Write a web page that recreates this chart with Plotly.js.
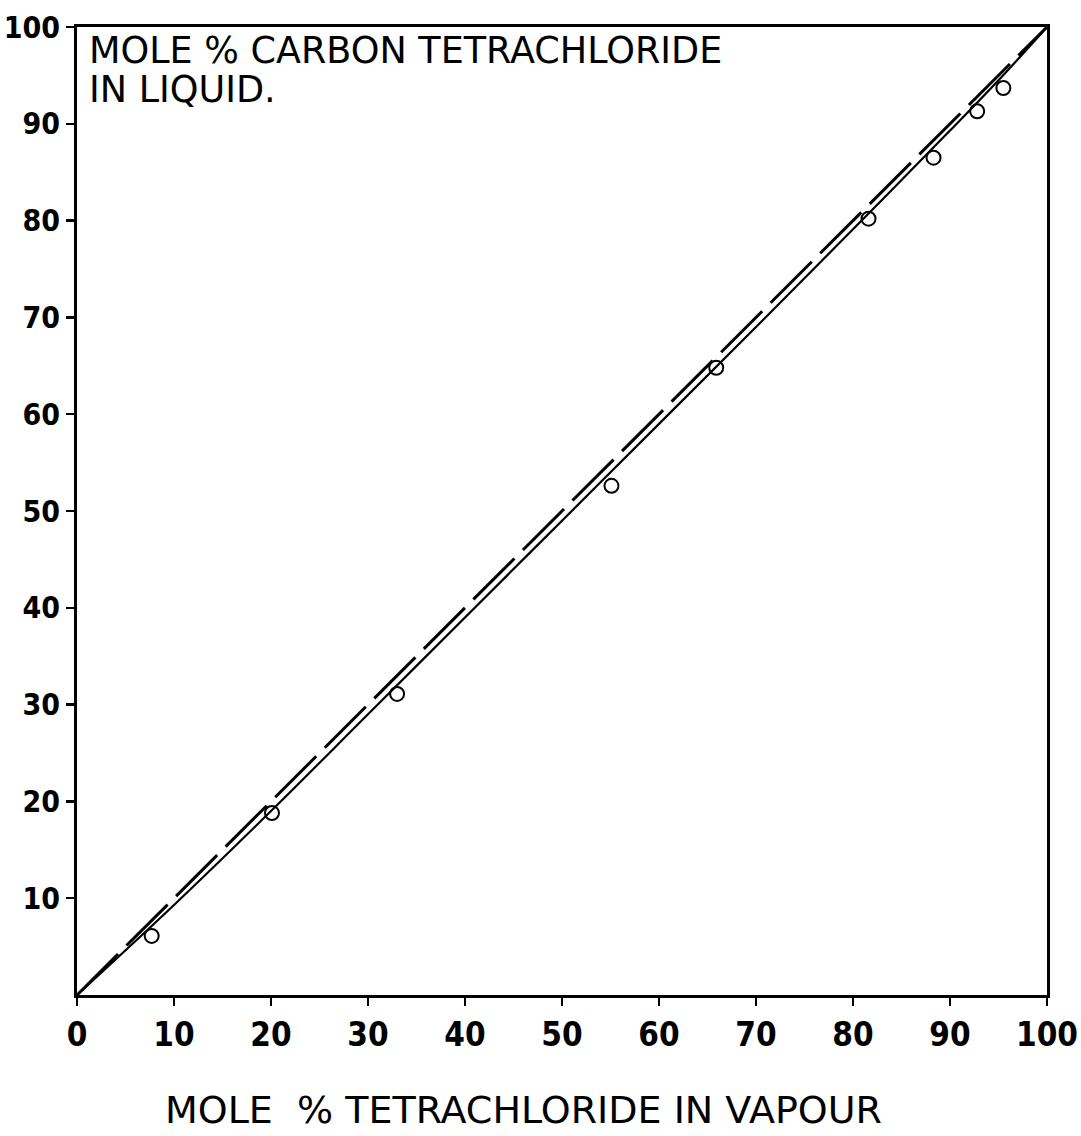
<!DOCTYPE html>
<html>
<head>
<meta charset="utf-8">
<script src="https://cdn.plot.ly/plotly-3.0.1.min.js"></script>
<style>html,body{margin:0;padding:0;background:#fff;}#chart{width:1081px;height:1136px;}</style>
</head>
<body>
<div id="chart"></div>
<script>
// Experimental points (vapour %, liquid %)
const pointsX = [7.7, 20.1, 33.0, 55.1, 65.9, 81.6, 88.3, 92.8, 95.5];
const pointsY = [6.1, 18.8, 31.1, 52.6, 64.8, 80.2, 86.5, 91.3, 93.7];
// Smoothed (solid) curve through the data
const curveX = [0, 10, 20, 30, 40, 50, 60, 70, 80, 90, 95, 100];
const curveY = [0, 9.3, 19.0, 29.0, 39.0, 49.0, 59.0, 69.0, 79.1, 89.3, 94.5, 100];
// Diagonal reference (dashed)
const diagX = [0, 100];
const diagY = [0, 100];
// Tick labels
const xTicks = [0, 10, 20, 30, 40, 50, 60, 70, 80, 90, 100];
const yTicks = [10, 20, 30, 40, 50, 60, 70, 80, 90, 100];
// Texts
const yLabelLines = ['MOLE % CARBON TETRACHLORIDE', 'IN LIQUID.'];
const xLabel = 'MOLE  % TETRACHLORIDE IN VAPOUR';

const font = "DejaVu Sans, sans-serif";
const tickFont = "'DejaVu Sans Condensed', 'Liberation Sans Narrow', 'DejaVu Sans', sans-serif";

const traces = [
  {x: diagX, y: diagY, mode: 'lines', line: {color: '#000', width: 3, dash: '58px,12px'}, hoverinfo: 'skip'},
  {x: curveX, y: curveY, mode: 'lines', line: {color: '#000', width: 2.2, shape: 'spline'}, hoverinfo: 'skip'},
  {x: pointsX, y: pointsY, mode: 'markers', marker: {symbol: 'circle-open', size: 14, color: '#000', line: {width: 2, color: '#000'}}}
];

const axisCommon = {
  range: [0, 100], showgrid: false, zeroline: false,
  showline: true, linecolor: '#000', linewidth: 3, mirror: true,
  ticks: 'outside', ticklen: 10, tickwidth: 2.5, tickcolor: '#000',
  fixedrange: true
};

const layout = {
  width: 1081, height: 1136,
  margin: {l: 77, r: 34, t: 27, b: 141},
  paper_bgcolor: '#fff', plot_bgcolor: '#fff',
  showlegend: false,
  xaxis: Object.assign({}, axisCommon, {tickvals: xTicks, ticktext: xTicks.map(String), ticklen: 8,
    tickfont: {family: tickFont, size: 33, color: '#000', weight: 'bold'}}),
  yaxis: Object.assign({}, axisCommon, {tickvals: yTicks, ticktext: yTicks.map(String), ticklen: 8,
    tickfont: {family: tickFont, size: 30, color: '#000', weight: 'bold'}}),
  annotations: [
    {xref: 'paper', yref: 'paper', x: 0.01, y: 0.976, xanchor: 'left', yanchor: 'middle',
     align: 'left', showarrow: false, text: yLabelLines[0],
     font: {family: font, size: 36.5, color: '#000'}},
    {xref: 'paper', yref: 'paper', x: 0.01, y: 0.935, xanchor: 'left', yanchor: 'middle',
     align: 'left', showarrow: false, text: yLabelLines[1],
     font: {family: font, size: 36.5, color: '#000'}},
    {xref: 'paper', yref: 'paper', x: 0.46, y: -0.119, xanchor: 'center', yanchor: 'middle',
     showarrow: false, text: xLabel,
     font: {family: font, size: 38, color: '#000'}}
  ]
};

Plotly.newPlot('chart', traces, layout, {staticPlot: true});
</script>
</body>
</html>
